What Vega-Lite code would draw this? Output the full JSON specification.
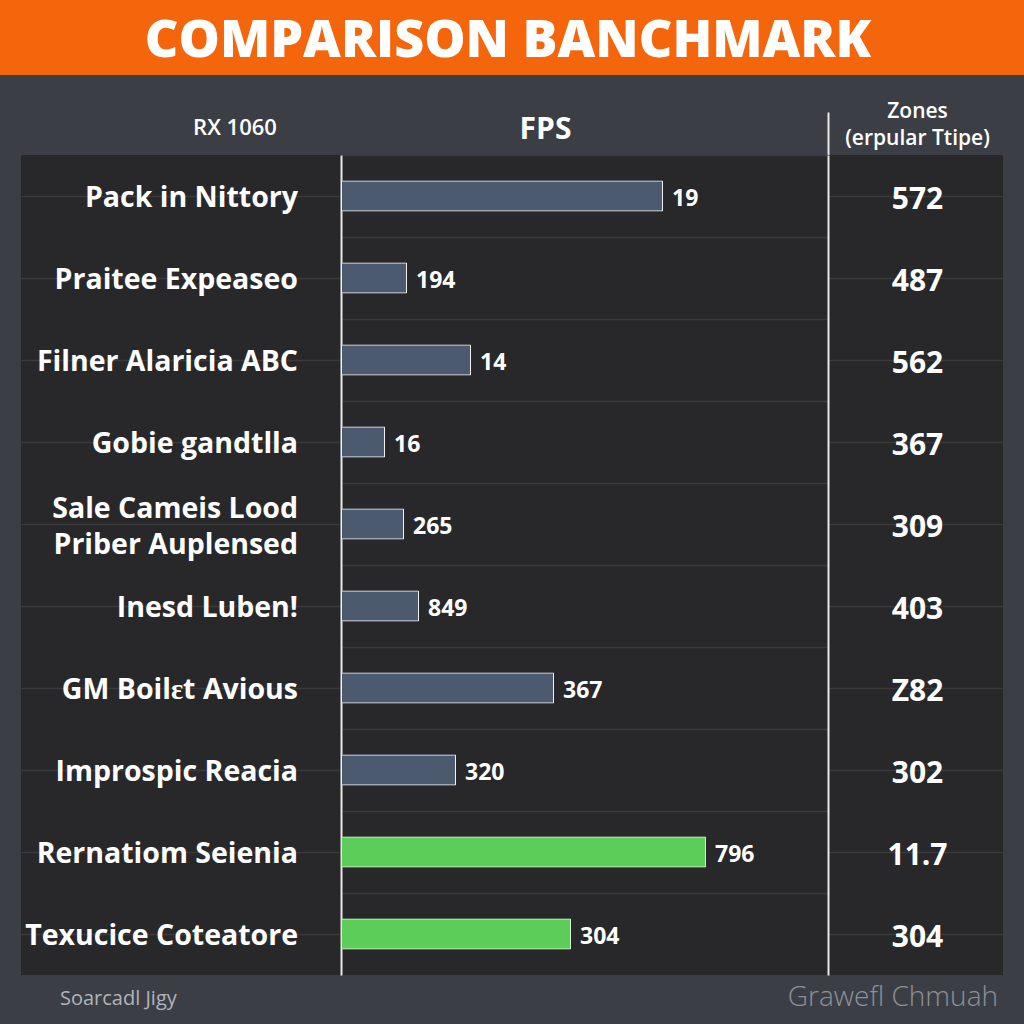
{
  "$schema": "https://vega.github.io/schema/vega-lite/v6.json",
  "background": "#3b3f45",
  "padding": 0,
  "spacing": 0,
  "center": true,
  "datasets": {
    "rows": [
      {"name": "Pack in Nittory", "bar": 322, "label": "19", "zone": "572", "group": "base"},
      {"name": "Praitee Expeaseo", "bar": 66, "label": "194", "zone": "487", "group": "base"},
      {"name": "Filner Alaricia ABC", "bar": 130, "label": "14", "zone": "562", "group": "base"},
      {"name": "Gobie gandtlla", "bar": 44, "label": "16", "zone": "367", "group": "base"},
      {"name": "Sale Cameis Lood\nPriber Auplensed", "bar": 63, "label": "265", "zone": "309", "group": "base"},
      {"name": "Inesd Luben!", "bar": 78, "label": "849", "zone": "403", "group": "base"},
      {"name": "GM Boilɛt Avious", "bar": 213, "label": "367", "zone": "Z82", "group": "base"},
      {"name": "Improspic Reacia", "bar": 115, "label": "320", "zone": "302", "group": "base"},
      {"name": "Rernatiom Seienia", "bar": 365, "label": "796", "zone": "11.7", "group": "highlight"},
      {"name": "Texucice Coteatore", "bar": 230, "label": "304", "zone": "304", "group": "highlight"}
    ]
  },
  "vconcat": [
    {
      "width": 1024,
      "height": 75,
      "view": {"fill": "#f4650c", "stroke": null},
      "data": {"values": [{"t": "COMPARISON BANCHMARK"}]},
      "mark": {"type": "text", "font": "Open Sans", "fontSize": 52, "fontWeight": 800, "color": "#ffffff", "align": "center", "baseline": "middle", "dx": -4, "dy": 3},
      "encoding": {"text": {"field": "t"}}
    },
    {
      "hconcat": [
        {
          "width": 320,
          "height": 80,
          "data": {"values": [{"t": "RX 1060"}]},
          "mark": {"type": "text", "font": "Open Sans", "fontSize": 22, "fontWeight": 600, "color": "#ffffff", "align": "center", "baseline": "middle", "dx": 54, "dy": 13},
          "encoding": {"text": {"field": "t"}}
        },
        {
          "width": 487,
          "height": 80,
          "data": {"values": [{"t": "FPS"}]},
          "mark": {"type": "text", "font": "Open Sans", "fontSize": 30, "fontWeight": 700, "color": "#ffffff", "align": "center", "baseline": "middle", "dx": -39, "dy": 15},
          "encoding": {"text": {"field": "t"}}
        },
        {
          "width": 175,
          "height": 80,
          "data": {"values": [{"t": "Zones", "line": 1}, {"t": "(erpular Ttipe)", "line": 2}]},
          "mark": {"type": "text", "font": "Open Sans", "fontSize": 21, "fontWeight": 600, "color": "#ffffff", "align": "center", "baseline": "middle", "dx": 2},
          "encoding": {
            "text": {"field": "t"},
            "y": {"field": "line", "type": "quantitative", "scale": {"domain": [1, 2.593], "range": [37, 80], "nice": false, "zero": false},
              "axis": {"orient": "left", "labels": false, "ticks": false, "grid": false, "title": null, "domainColor": "#e8e8e8", "domainWidth": 2}}
          }
        }
      ],
      "spacing": 0,
      "bounds": "flush"
    },
    {
      "hconcat": [
        {
          "width": 320,
          "height": 820,
          "view": {"fill": "#28282a", "stroke": null},
          "data": {"name": "rows"},
          "encoding": {
            "y": {"field": "name", "type": "nominal", "sort": null, "scale": {"paddingInner": 0, "paddingOuter": 0},
              "axis": {"labels": false, "ticks": false, "title": null, "domain": false, "grid": true, "gridColor": "#3a3a3d", "gridWidth": 1.5, "bandPosition": 0}}
          },
          "layer": [
            {
              "mark": {"type": "text", "font": "Open Sans", "fontSize": 28.5, "fontWeight": 700, "color": "#ffffff", "align": "right", "baseline": "middle", "dx": 117, "dy": 2},
              "encoding": {
                "text": {"condition": {"test": "indexof(datum.name, '\\n') >= 0", "value": ""}, "field": "name"}
              }
            },
            {
              "transform": [{"filter": "indexof(datum.name, '\\n') >= 0"}],
              "mark": {"type": "text", "font": "Open Sans", "fontSize": 28.5, "fontWeight": 700, "color": "#ffffff", "align": "right", "baseline": "middle", "dx": 117, "dy": -15, "lineBreak": "\n", "lineHeight": 36},
              "encoding": {"text": {"field": "name"}}
            }
          ]
        },
        {
          "width": 487,
          "height": 820,
          "view": {"fill": "#28282a", "stroke": null},
          "data": {"name": "rows"},
          "encoding": {
            "y": {"field": "name", "type": "nominal", "sort": null, "scale": {"paddingInner": 0, "paddingOuter": 0},
              "axis": {"labels": false, "ticks": false, "title": null, "domain": true, "domainColor": "#e8e8e8", "domainWidth": 2, "grid": true, "gridColor": "#3a3a3d", "gridWidth": 1.5, "bandPosition": 0}},
            "x": {"field": "bar", "type": "quantitative", "scale": {"domain": [0, 487], "nice": false, "zero": true}, "axis": null}
          },
          "layer": [
            {
              "mark": {"type": "bar", "height": 31, "strokeWidth": 2, "cornerRadius": 1},
              "encoding": {
                "color": {"field": "group", "type": "nominal", "scale": {"domain": ["base", "highlight"], "range": ["#4c5a70", "#5ccd58"]}, "legend": null},
                "stroke": {"field": "group", "type": "nominal", "scale": {"domain": ["base", "highlight"], "range": ["#f2f2f2", "#d6f3cf"]}, "legend": null}
              }
            },
            {
              "mark": {"type": "text", "font": "Open Sans", "fontSize": 23, "fontWeight": 700, "color": "#ffffff", "align": "left", "baseline": "middle", "dx": 9, "dy": 3},
              "encoding": {"text": {"field": "label"}}
            }
          ]
        },
        {
          "width": 175,
          "height": 820,
          "view": {"fill": "#28282a", "stroke": null},
          "data": {"name": "rows"},
          "mark": {"type": "text", "font": "Open Sans", "fontSize": 30, "fontWeight": 700, "color": "#ffffff", "align": "center", "baseline": "middle", "dx": 2, "dy": 4},
          "encoding": {
            "y": {"field": "name", "type": "nominal", "sort": null, "scale": {"paddingInner": 0, "paddingOuter": 0},
              "axis": {"labels": false, "ticks": false, "title": null, "domain": true, "domainColor": "#e8e8e8", "domainWidth": 2, "grid": true, "gridColor": "#3a3a3d", "gridWidth": 1.5, "bandPosition": 0}},
            "text": {"field": "zone"}
          }
        }
      ],
      "spacing": 0,
      "bounds": "flush"
    },
    {
      "width": 1024,
      "height": 49,
      "layer": [
        {
          "data": {"values": [{"t": "Soarcadl Jigy"}]},
          "mark": {"type": "text", "font": "Open Sans", "fontSize": 20, "fontWeight": 400, "color": "#b0b4ba", "align": "left", "baseline": "middle", "dx": -452, "dy": -1},
          "encoding": {"text": {"field": "t"}}
        },
        {
          "data": {"values": [{"t": "Grawefl Chmuah"}]},
          "mark": {"type": "text", "font": "Open Sans", "fontSize": 28, "fontWeight": 300, "color": "#8d9197", "align": "right", "baseline": "middle", "dx": 486, "dy": -2},
          "encoding": {"text": {"field": "t"}}
        }
      ]
    }
  ],
  "config": {
    "view": {"stroke": null},
    "concat": {"spacing": 0}
  }
}
